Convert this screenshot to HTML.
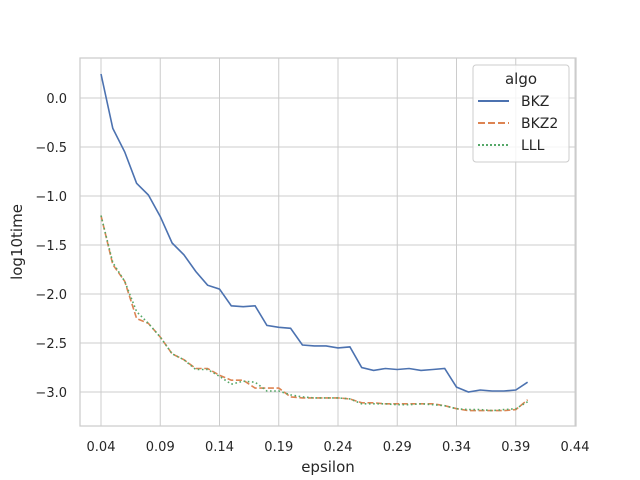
<!DOCTYPE html>
<html><head><meta charset="utf-8"><style>
body{margin:0;background:#fff}
svg{display:block;font-family:"DejaVu Sans","Liberation Sans",sans-serif}
</style></head><body>
<svg id="chart" width="640" height="480" xmlns="http://www.w3.org/2000/svg">
<rect width="640" height="480" fill="#fff"/>
<g id="grid"></g>
<rect x="80" y="58" width="496" height="368" fill="none" stroke="#cccccc" stroke-width="1.25"/>
<g id="ticks"></g>
<g id="series"></g>
<text x="328" y="472" font-size="15" fill="#262626" text-anchor="middle">epsilon</text>
<text transform="translate(22,242) rotate(-90)" font-size="15" fill="#262626" text-anchor="middle">log10time</text>
<g>
<rect x="473" y="65" width="96" height="97" rx="3" fill="#fff" fill-opacity="0.8" stroke="#cccccc"/>
<text x="521" y="84" font-size="15" fill="#262626" text-anchor="middle">algo</text>
<line x1="478" y1="101" x2="509" y2="101" stroke="#4c72b0" stroke-width="2"/>
<text x="521" y="106" font-size="14" fill="#262626">BKZ</text>
<line x1="478" y1="123" x2="509" y2="123" stroke="#dd8452" stroke-width="2" stroke-dasharray="7,3"/>
<text x="521" y="128" font-size="14" fill="#262626">BKZ2</text>
<line x1="478" y1="145" x2="509" y2="145" stroke="#55a868" stroke-width="2" stroke-dasharray="2,2"/>
<text x="521" y="150" font-size="14" fill="#262626">LLL</text>
</g>
</svg>
<script>
const epsilon = [0.04,0.05,0.06,0.07,0.08,0.09,0.10,0.11,0.12,0.13,0.14,0.15,0.16,0.17,0.18,0.19,0.20,0.21,0.22,0.23,0.24,0.25,0.26,0.27,0.28,0.29,0.30,0.31,0.32,0.33,0.34,0.35,0.36,0.37,0.38,0.39,0.40];
const bkz = [0.245,-0.31,-0.55,-0.87,-0.99,-1.21,-1.48,-1.60,-1.77,-1.91,-1.95,-2.12,-2.13,-2.12,-2.32,-2.34,-2.35,-2.52,-2.53,-2.53,-2.55,-2.54,-2.75,-2.78,-2.76,-2.77,-2.76,-2.78,-2.77,-2.76,-2.95,-3.0,-2.98,-2.99,-2.99,-2.98,-2.90];
const bkz2 = [-1.20,-1.70,-1.87,-2.25,-2.30,-2.44,-2.61,-2.67,-2.76,-2.76,-2.83,-2.88,-2.88,-2.96,-2.96,-2.96,-3.05,-3.06,-3.06,-3.06,-3.06,-3.07,-3.11,-3.11,-3.12,-3.12,-3.12,-3.12,-3.12,-3.14,-3.17,-3.19,-3.19,-3.19,-3.19,-3.18,-3.08];
const lll = [-1.20,-1.68,-1.87,-2.18,-2.30,-2.44,-2.61,-2.67,-2.77,-2.77,-2.84,-2.92,-2.89,-2.90,-2.99,-2.99,-3.03,-3.05,-3.06,-3.06,-3.06,-3.07,-3.12,-3.12,-3.12,-3.13,-3.13,-3.12,-3.13,-3.14,-3.17,-3.18,-3.18,-3.19,-3.18,-3.17,-3.10];
const xTicks = [0.04,0.09,0.14,0.19,0.24,0.29,0.34,0.39,0.44];
const yTicks = [0.0,-0.5,-1.0,-1.5,-2.0,-2.5,-3.0];
const NS='http://www.w3.org/2000/svg';
function xs(v){return 101+(v-0.04)*1185;}
function ys(v){return 98-v*98;}
const grid=document.getElementById('grid'), ticks=document.getElementById('ticks'), series=document.getElementById('series');
xTicks.forEach(t=>{
  const l=document.createElementNS(NS,'line');
  l.setAttribute('x1',xs(t));l.setAttribute('x2',xs(t));l.setAttribute('y1',58);l.setAttribute('y2',426);
  l.setAttribute('stroke','#cccccc');l.setAttribute('stroke-width','1');
  
  
  grid.appendChild(l);
  const tx=document.createElementNS(NS,'text');
  tx.setAttribute('x',xs(t));tx.setAttribute('y',451);tx.setAttribute('font-size','13');tx.setAttribute('fill','#262626');tx.setAttribute('text-anchor','middle');
  tx.textContent=t.toFixed(2);
  
  
  ticks.appendChild(tx);
});
yTicks.forEach(t=>{
  const l=document.createElementNS(NS,'line');
  l.setAttribute('x1',80);l.setAttribute('x2',576);l.setAttribute('y1',ys(t));l.setAttribute('y2',ys(t));
  l.setAttribute('stroke','#cccccc');l.setAttribute('stroke-width','1');
  
  
  grid.appendChild(l);
  const tx=document.createElementNS(NS,'text');
  tx.setAttribute('x',67);tx.setAttribute('y',ys(t)+5);tx.setAttribute('font-size','13');tx.setAttribute('fill','#262626');tx.setAttribute('text-anchor','end');
  tx.textContent=(t<0?'\u2212':'')+Math.abs(t).toFixed(1);
  
  
  ticks.appendChild(tx);
});
function draw(vals,color,dash,name){
  const p=document.createElementNS(NS,'path');
  p.setAttribute('d',vals.map((v,i)=>(i?'L':'M')+xs(epsilon[i]).toFixed(1)+','+ys(v).toFixed(1)).join(''));
  p.setAttribute('fill','none');p.setAttribute('stroke',color);p.setAttribute('stroke-width','1.6');
  if(dash)p.setAttribute('stroke-dasharray',dash);
  
  
  series.appendChild(p);
}
draw(bkz,'#4c72b0',null,'bkz-line');
draw(bkz2,'#dd8452','6,2.6','bkz2-line');
draw(lll,'#55a868','1.6,2.6','lll-line');
</script>
</body></html>
